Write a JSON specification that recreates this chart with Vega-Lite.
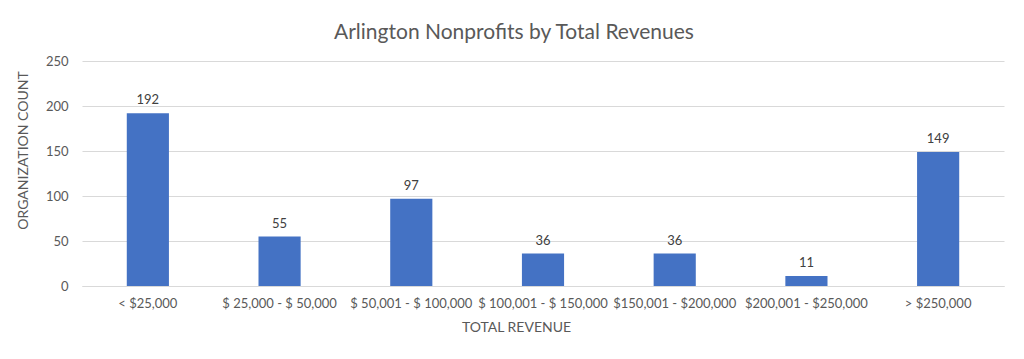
{
  "$schema": "https://vega.github.io/schema/vega-lite/v6.json",
  "autosize": {"type": "none"},
  "width": 922,
  "height": 225,
  "padding": {"left": 82, "top": 61, "right": 20, "bottom": 73},
  "background": "white",
  "config": {
    "font": "Lato",
    "view": {"stroke": null},
    "axis": {"labelFont": "Lato", "titleFont": "Lato", "labelColor": "#595959", "titleColor": "#595959", "titleFontWeight": "normal", "gridColor": "#d9d9d9", "domainColor": "#d9d9d9"}
  },
  "title": {
    "text": "Arlington Nonprofits by Total Revenues",
    "fontSize": 21,
    "fontWeight": "normal",
    "color": "#595959",
    "font": "Lato",
    "anchor": "middle",
    "dx": -29,
    "offset": 12
  },
  "data": {
    "values": [
      {"range": "< $25,000", "count": 192},
      {"range": "$ 25,000 - $ 50,000", "count": 55},
      {"range": "$ 50,001 - $ 100,000", "count": 97},
      {"range": "$ 100,001 - $ 150,000", "count": 36},
      {"range": "$150,001 - $200,000", "count": 36},
      {"range": "$200,001 - $250,000", "count": 11},
      {"range": "> $250,000", "count": 149}
    ]
  },
  "encoding": {
    "x": {
      "field": "range",
      "type": "nominal",
      "sort": null,
      "scale": {"paddingInner": 0.68, "paddingOuter": 0.34},
      "axis": {"title": "TOTAL REVENUE", "labelAngle": 0, "labelFontSize": 13, "titleFontSize": 14, "ticks": false, "labelPadding": 11, "titlePadding": 10, "titleX": 434, "domain": true}
    },
    "y": {
      "field": "count",
      "type": "quantitative",
      "scale": {"domain": [0, 250]},
      "axis": {"title": "ORGANIZATION COUNT", "values": [0, 50, 100, 150, 200, 250], "labelFontSize": 13, "titleFontSize": 14, "ticks": false, "domain": false, "labelPadding": 14, "titlePadding": 15, "titleY": 89}
    }
  },
  "layer": [
    {"mark": {"type": "bar", "color": "#4472C4"}},
    {"mark": {"type": "text", "baseline": "bottom", "dy": -6, "fontSize": 13, "color": "#404040", "font": "Lato"}, "encoding": {"text": {"field": "count", "type": "quantitative"}}}
  ]
}
